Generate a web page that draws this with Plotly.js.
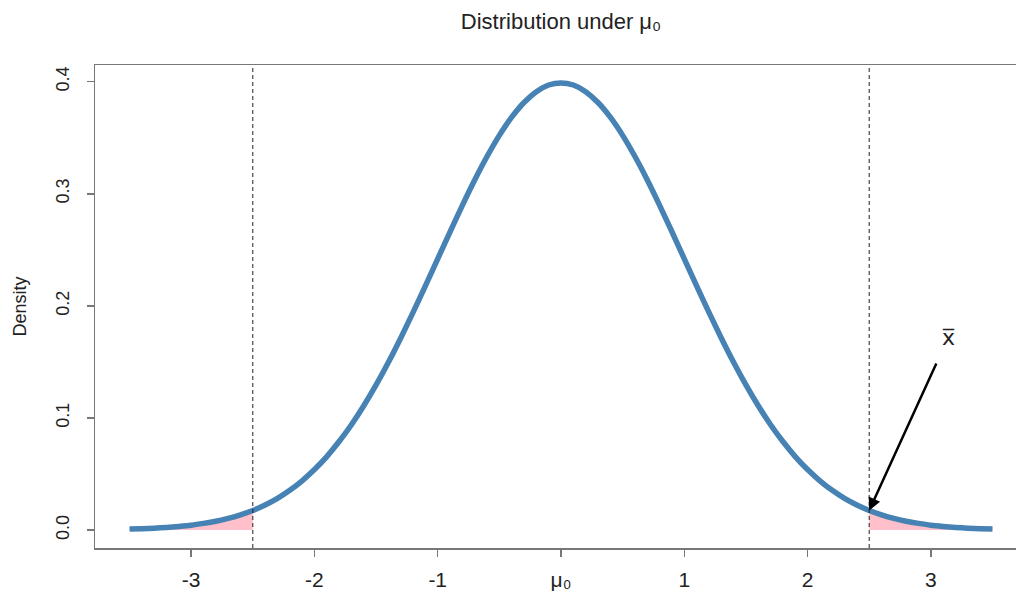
<!DOCTYPE html>
<html>
<head>
<meta charset="utf-8">
<script src="https://cdn.plot.ly/plotly-3.0.1.min.js"></script>
<style>
html,body{margin:0;padding:0;overflow:hidden;background:#fff;}
#chart{width:1040px;height:592px;}
</style>
</head>
<body>
<div id="chart"></div>
<script>
// Values
const xVals = [-3.5,-3.4,-3.3,-3.2,-3.1,-3.0,-2.9,-2.8,-2.7,-2.6,-2.5,-2.4,-2.3,-2.2,-2.1,-2.0,
               -1.9,-1.8,-1.7,-1.6,-1.5,-1.4,-1.3,-1.2,-1.1,-1.0,-0.9,-0.8,-0.7,-0.6,-0.5,
               -0.4,-0.3,-0.2,-0.1,0.0,0.1,0.2,0.3,0.4,0.5,0.6,0.7,0.8,0.9,1.0,
               1.1,1.2,1.3,1.4,1.5,1.6,1.7,1.8,1.9,2.0,2.1,2.2,2.3,2.4,2.5,
               2.6,2.7,2.8,2.9,3.0,3.1,3.2,3.3,3.4,3.5];
const densityVals = [0.0009,0.0012,0.0017,0.0024,0.0033,0.0044,0.0060,0.0079,0.0104,0.0136,0.0175,0.0224,0.0283,0.0355,0.0440,0.0540,
                     0.0656,0.0790,0.0940,0.1109,0.1295,0.1497,0.1714,0.1942,0.2179,0.2420,0.2661,0.2897,0.3123,0.3332,0.3521,
                     0.3683,0.3814,0.3910,0.3970,0.3989,0.3970,0.3910,0.3814,0.3683,0.3521,0.3332,0.3123,0.2897,0.2661,0.2420,
                     0.2179,0.1942,0.1714,0.1497,0.1295,0.1109,0.0940,0.0790,0.0656,0.0540,0.0440,0.0355,0.0283,0.0224,0.0175,
                     0.0136,0.0104,0.0079,0.0060,0.0044,0.0033,0.0024,0.0017,0.0012,0.0009];
const criticalLow = -2.5;
const criticalHigh = 2.5;
const xbarValue = 2.5;
const xbarDensity = 0.0175;
const arrowTail = [3.05, 0.150];
const xbarLabelPos = [3.14, 0.172];
const xTickVals = [-3,-2,-1,0,1,2,3];
const xTickText = ['-3','-2','-1','μ₀','1','2','3'];
const yTickVals = [0.0,0.1,0.2,0.3,0.4];
const yTickText = ['0.0','0.1','0.2','0.3','0.4'];

const leftX = [], leftY = [], rightX = [], rightY = [];
xVals.forEach((x,i)=>{
  if (x <= criticalLow + 1e-9) { leftX.push(x); leftY.push(densityVals[i]); }
  if (x >= criticalHigh - 1e-9) { rightX.push(x); rightY.push(densityVals[i]); }
});

const FONT = 'Liberation Sans, Arial, Helvetica, DejaVu Sans, sans-serif';

const traces = [
  {x:leftX, y:leftY, type:'scatter', mode:'lines', fill:'tozeroy', fillcolor:'#FFC0CB',
   line:{width:0, color:'#FFC0CB'}, hoverinfo:'skip', showlegend:false},
  {x:rightX, y:rightY, type:'scatter', mode:'lines', fill:'tozeroy', fillcolor:'#FFC0CB',
   line:{width:0, color:'#FFC0CB'}, hoverinfo:'skip', showlegend:false},
  {x:xVals, y:densityVals, type:'scatter', mode:'lines',
   line:{color:'#4682B4', width:5.5, shape:'spline', smoothing:0.6}, showlegend:false}
];

const layout = {
  width:1040, height:592,
  margin:{l:95, r:13, t:65, b:44},
  paper_bgcolor:'#fff', plot_bgcolor:'#fff',
  font:{family:FONT, color:'#222'},
  title:{text:'Distribution under μ₀', font:{size:22, family:FONT, color:'#222'},
         xref:'paper', x:0.5, xanchor:'center', yref:'container', y:1-21/592, yanchor:'middle'},
  xaxis:{range:[-3.78,3.78], tickvals:xTickVals, ticktext:xTickText,
         showgrid:false, zeroline:false, showline:true, mirror:true, linecolor:'#777', linewidth:1.5,
         ticks:'outside', ticklen:7, tickcolor:'#777', tickwidth:1.5,
         tickfont:{size:21, family:FONT, color:'#222'}, ticklabelstandoff:5},
  yaxis:{range:[-0.01596,0.41485], tickvals:yTickVals, ticktext:yTickText, tickangle:-90,
         showgrid:false, zeroline:false, showline:true, mirror:true, linecolor:'#777', linewidth:1.5,
         ticks:'outside', ticklen:7, tickcolor:'#777', tickwidth:1.5,
         tickfont:{size:18, family:FONT, color:'#222'}, ticklabelstandoff:10,
         title:{text:'Density', font:{size:18, family:FONT, color:'#222'}, standoff:22}},
  shapes:[
    {type:'line', xref:'x', yref:'paper', x0:criticalLow, x1:criticalLow, y0:0, y1:1,
     line:{color:'#222', width:1, dash:'4px,3px'}},
    {type:'line', xref:'x', yref:'paper', x0:criticalHigh, x1:criticalHigh, y0:0, y1:1,
     line:{color:'#222', width:1, dash:'4px,3px'}}
  ],
  annotations:[
    {x:xbarValue, y:xbarDensity, ax:arrowTail[0], ay:arrowTail[1], axref:'x', ayref:'y',
     xref:'x', yref:'y', showarrow:true, arrowhead:2, arrowsize:1, arrowwidth:2.5, arrowcolor:'#000', text:''},
    {x:xbarLabelPos[0], y:xbarLabelPos[1], xref:'x', yref:'y', showarrow:false,
     text:'x\u0305', font:{size:22, family:'DejaVu Sans, '+FONT, color:'#222'}}
  ]
};

Plotly.newPlot('chart', traces, layout, {displayModeBar:false, staticPlot:true});
</script>
</body>
</html>
